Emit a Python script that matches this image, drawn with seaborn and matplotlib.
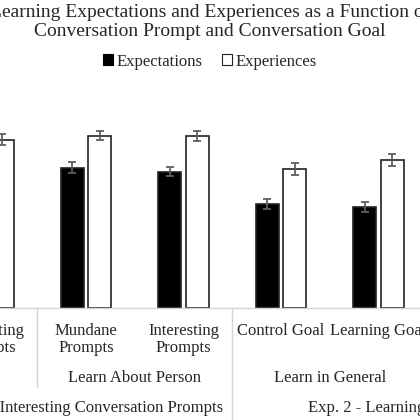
import seaborn as sns
import matplotlib.pyplot as plt
import matplotlib.transforms as mtransforms
from matplotlib.patches import Patch
import pandas as pd

# values (slot 0 is cut off on the left)
slots = [0, 1, 2, 3, 4]
tick_labels = ["Interesting\nPrompts", "Mundane\nPrompts", "Interesting\nPrompts",
               "Control Goal", "Learning Goal"]
expectations = [4.20, 4.31, 4.18, 3.19, 3.11]
experiences = [5.16, 5.29, 5.29, 4.26, 4.54]
exp_err = [0.15, 0.17, 0.14, 0.15, 0.15]
expr_err = [0.17, 0.13, 0.15, 0.18, 0.18]

mid_labels = ["Learn About Person", "Learn in General"]
mid_pos = [1.5, 3.5]
top_labels = ["Exp. 1 - Mundane vs. Interesting Conversation Prompts",
              "Exp. 2 - Learning vs. Control Goals"]
top_pos = [0.5, 4.5]
title_lines = ["Learning Expectations and Experiences as a Function of",
               "Conversation Prompt and Conversation Goal"]

df = pd.DataFrame({
    "slot": slots * 2,
    "value": expectations + experiences,
    "series": ["Expectations"] * len(slots) + ["Experiences"] * len(slots),
})

sns.set_theme(style="white")
plt.rcParams["font.family"] = ["Liberation Serif", "DejaVu Serif"]

W = 420
fig = plt.figure(figsize=(4.2, 4.2), dpi=100)
# axes wider than the figure: the reference is a crop of a larger chart
x0, x1 = -60.25, 427.25
ax = fig.add_axes([x0 / W, (420 - 308) / W, (x1 - x0) / W, 228 / W])

sns.barplot(data=df, x="slot", y="value", hue="series",
            palette={"Expectations": "black", "Experiences": "white"},
            width=0.564, gap=0.163, edgecolor="#222222", linewidth=1.2,
            legend=False, ax=ax)

for cont, errs in zip(ax.containers, [exp_err, expr_err]):
    xs = [b.get_x() + b.get_width() / 2 for b in cont]
    ys = [b.get_height() for b in cont]
    ax.errorbar(xs, ys, yerr=errs, fmt="none", ecolor="#5f5f5f",
                elinewidth=1.3, capsize=3, capthick=1.3)

ax.set_xlim(-0.5, 4.5)
ax.set_ylim(0, 7)
ax.set_yticks([])
ax.set_xlabel("")
ax.set_ylabel("")
ax.set_xticks(slots)
ax.set_xticklabels(tick_labels, fontsize=12, linespacing=1.12)
ax.tick_params(axis="x", length=0, pad=10.5)
for s in ["left", "right", "top"]:
    ax.spines[s].set_visible(False)
ax.spines["bottom"].set_color("#d4d4d4")
ax.spines["bottom"].set_linewidth(1)

trans = mtransforms.blended_transform_factory(ax.transData, fig.transFigure)
# dividers of the category axis
for xd, yend in [(0.5, 387), (2.5, 420), (4.5, 387)]:
    ax.plot([xd, xd], [(420 - 308) / W, (420 - yend) / W], transform=trans,
            color="#d4d4d4", lw=1, clip_on=False)

for lab, p in zip(mid_labels, mid_pos):
    ax.text(p, (420 - 382) / W, lab, transform=trans, ha="center",
            va="baseline", fontsize=12)
for lab, p in zip(top_labels, top_pos):
    ax.text(p, (420 - 412) / W, lab, transform=trans, ha="center",
            va="baseline", fontsize=12)

for line, yb in zip(title_lines, [17, 36.5]):
    fig.text(0.5, 1 - yb / W, line, ha="center", va="baseline", fontsize=14)

handles = [Patch(facecolor="black", edgecolor="black", lw=0.8),
           Patch(facecolor="white", edgecolor="#222222", lw=0.8)]
fig.legend(handles, ["Expectations", "Experiences"], loc="center",
           bbox_to_anchor=(0.5, 1 - 61.5 / W), ncol=2, frameon=False,
           fontsize=12, handlelength=0.6, handleheight=0.6,
           handletextpad=0.2, columnspacing=1.2)

fig.savefig("out.png", dpi=100)
